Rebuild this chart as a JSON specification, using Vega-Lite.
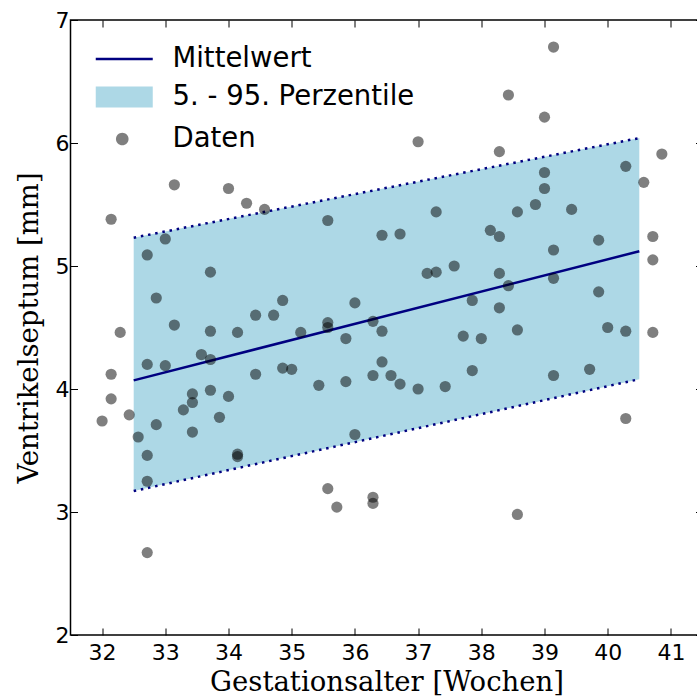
{
  "$schema": "https://vega.github.io/schema/vega-lite/v6.json",
  "autosize": "none",
  "width": 632,
  "height": 615,
  "padding": {"left": 70.5, "top": 20, "right": 0, "bottom": 65},
  "background": "white",
  "config": {
    "font": "DejaVu Sans",
    "view": {"stroke": "black", "strokeWidth": 1.5},
    "axis": {
      "grid": false,
      "domain": false,
      "tickColor": "black",
      "tickWidth": 1,
      "tickSize": -7,
      "labelColor": "black",
      "labelFont": "DejaVu Sans",
      "labelFontSize": 22,
      "titleFont": "DejaVu Serif",
      "titleFontSize": 27.5,
      "titleFontWeight": "normal",
      "titleColor": "black"
    },
    "legend": {
      "title": null,
      "orient": "none",
      "padding": 0,
      "symbolSize": 400,
      "labelFont": "DejaVu Sans",
      "labelFontSize": 27.5,
      "labelColor": "black",
      "labelOffset": 53,
      "labelLimit": 0
    }
  },
  "datasets": {
    "band": [
      {"x": 32.5, "lo": 3.17, "hi": 5.23, "mean": 4.07},
      {"x": 40.5, "lo": 4.08, "hi": 6.04, "mean": 5.12}
    ],
    "points": [
      {"x": 32.143, "y": 5.38}, {"x": 32.286, "y": 4.46}, {"x": 32.143, "y": 4.12},
      {"x": 32.143, "y": 3.92}, {"x": 32.0, "y": 3.74}, {"x": 32.429, "y": 3.79}, {"x": 32.571, "y": 3.61},
      {"x": 32.714, "y": 5.09}, {"x": 32.714, "y": 4.20}, {"x": 32.714, "y": 3.46}, {"x": 32.714, "y": 3.25},
      {"x": 32.714, "y": 2.67}, {"x": 32.857, "y": 4.74}, {"x": 32.857, "y": 3.71}, {"x": 33.0, "y": 5.22},
      {"x": 33.0, "y": 4.19}, {"x": 33.143, "y": 5.66}, {"x": 33.143, "y": 4.52}, {"x": 33.286, "y": 3.83},
      {"x": 33.429, "y": 3.96}, {"x": 33.429, "y": 3.89}, {"x": 33.429, "y": 3.65}, {"x": 33.571, "y": 4.28},
      {"x": 33.714, "y": 4.24}, {"x": 33.714, "y": 4.95}, {"x": 33.714, "y": 4.47}, {"x": 33.714, "y": 3.99},
      {"x": 33.857, "y": 3.77}, {"x": 34.0, "y": 5.63}, {"x": 34.0, "y": 3.94}, {"x": 34.143, "y": 3.47},
      {"x": 34.143, "y": 3.45}, {"x": 34.143, "y": 4.46}, {"x": 34.286, "y": 5.51}, {"x": 34.429, "y": 4.60},
      {"x": 34.429, "y": 4.12}, {"x": 34.571, "y": 5.46}, {"x": 34.714, "y": 4.60}, {"x": 34.857, "y": 4.72},
      {"x": 34.857, "y": 4.17}, {"x": 35.0, "y": 4.16}, {"x": 35.143, "y": 4.46}, {"x": 35.429, "y": 4.03},
      {"x": 35.571, "y": 3.19}, {"x": 35.571, "y": 5.37}, {"x": 35.571, "y": 4.54}, {"x": 35.571, "y": 4.50},
      {"x": 35.714, "y": 3.04}, {"x": 35.857, "y": 4.41}, {"x": 35.857, "y": 4.06}, {"x": 36.0, "y": 4.70},
      {"x": 36.0, "y": 3.63}, {"x": 36.286, "y": 3.12}, {"x": 36.286, "y": 3.07}, {"x": 36.286, "y": 4.55},
      {"x": 36.286, "y": 4.11}, {"x": 36.429, "y": 5.25}, {"x": 36.429, "y": 4.47}, {"x": 36.429, "y": 4.22},
      {"x": 36.571, "y": 4.11}, {"x": 36.714, "y": 5.26}, {"x": 36.714, "y": 4.04}, {"x": 37.0, "y": 6.01},
      {"x": 37.0, "y": 4.00}, {"x": 37.143, "y": 4.94}, {"x": 37.286, "y": 4.95}, {"x": 37.286, "y": 5.44},
      {"x": 37.429, "y": 4.02}, {"x": 37.571, "y": 5.00}, {"x": 37.714, "y": 4.43}, {"x": 37.857, "y": 4.72},
      {"x": 37.857, "y": 4.15}, {"x": 38.0, "y": 4.41}, {"x": 38.143, "y": 5.29}, {"x": 38.286, "y": 5.93},
      {"x": 38.286, "y": 5.24}, {"x": 38.286, "y": 4.94}, {"x": 38.286, "y": 4.66}, {"x": 38.429, "y": 6.39},
      {"x": 38.429, "y": 4.84}, {"x": 38.571, "y": 5.44}, {"x": 38.571, "y": 4.48}, {"x": 38.571, "y": 2.98},
      {"x": 38.857, "y": 5.50}, {"x": 39.0, "y": 6.21}, {"x": 39.0, "y": 5.76}, {"x": 39.0, "y": 5.63},
      {"x": 39.143, "y": 6.78}, {"x": 39.143, "y": 5.13}, {"x": 39.143, "y": 4.90}, {"x": 39.143, "y": 4.11},
      {"x": 39.429, "y": 5.46}, {"x": 39.714, "y": 4.16}, {"x": 39.857, "y": 5.21}, {"x": 39.857, "y": 4.79},
      {"x": 40.0, "y": 4.50}, {"x": 40.286, "y": 5.81}, {"x": 40.286, "y": 4.47}, {"x": 40.286, "y": 3.76},
      {"x": 40.571, "y": 5.68}, {"x": 40.714, "y": 5.24}, {"x": 40.714, "y": 5.05}, {"x": 40.714, "y": 4.46},
      {"x": 40.857, "y": 5.91}
    ]
  },
  "resolve": {"axis": {"x": "independent", "y": "independent"}},
  "layer": [
    {
      "data": {"name": "band"},
      "mark": {"type": "area", "opacity": 1},
      "encoding": {
        "x": {
          "field": "x", "type": "quantitative",
          "scale": {"domain": [31.5, 41.5], "nice": false, "zero": false},
          "axis": {"orient": "bottom", "values": [32, 33, 34, 35, 36, 37, 38, 39, 40, 41], "title": "Gestationsalter [Wochen]", "labelPadding": 14, "titlePadding": 5}
        },
        "y": {
          "field": "lo", "type": "quantitative",
          "scale": {"domain": [2, 7], "nice": false, "zero": false},
          "axis": {"orient": "left", "values": [2, 3, 4, 5, 6, 7], "title": "Ventrikelseptum [mm]", "labelPadding": 8.5, "titlePadding": 12}
        },
        "y2": {"field": "hi"},
        "fill": {
          "datum": "5. - 95. Perzentile", "type": "nominal",
          "scale": {"range": ["#ADD8E6"]},
          "legend": {
            "legendX": 21.5, "legendY": 63.25,
            "symbolType": "M-1,-1.05H4.7V1.05H-1Z",
            "symbolStrokeWidth": 0,
            "symbolStrokeColor": "transparent",
            "symbolOpacity": 1
          }
        }
      }
    },
    {
      "data": {"name": "band"},
      "mark": {"type": "line", "color": "#000080", "strokeWidth": 2.5, "strokeDash": [2.5, 4.8], "strokeCap": "butt"},
      "encoding": {
        "x": {"field": "x", "type": "quantitative", "axis": {"orient": "top", "values": [32, 33, 34, 35, 36, 37, 38, 39, 40, 41], "labels": false, "title": null}},
        "y": {"field": "hi", "type": "quantitative", "axis": {"orient": "right", "values": [2, 3, 4, 5, 6, 7], "labels": false, "title": null}}
      }
    },
    {
      "data": {"name": "band"},
      "mark": {"type": "line", "color": "#000080", "strokeWidth": 2.5, "strokeDash": [2.5, 4.8], "strokeCap": "butt"},
      "encoding": {
        "x": {"field": "x", "type": "quantitative", "axis": null},
        "y": {"field": "lo", "type": "quantitative", "axis": null}
      }
    },
    {
      "data": {"name": "band"},
      "mark": {"type": "line", "strokeWidth": 2.5},
      "encoding": {
        "x": {"field": "x", "type": "quantitative", "axis": null},
        "y": {"field": "mean", "type": "quantitative", "axis": null},
        "stroke": {
          "datum": "Mittelwert", "type": "nominal",
          "scale": {"range": ["#000080"]},
          "legend": {
            "legendX": 21.5, "legendY": 25.25,
            "symbolType": "M-1,0H4.7",
            "symbolStrokeWidth": 2.5,
            "symbolFillColor": "transparent",
            "symbolOpacity": 1
          }
        }
      }
    },
    {
      "data": {"name": "points"},
      "mark": {"type": "circle", "color": "black", "size": 125},
      "encoding": {
        "x": {"field": "x", "type": "quantitative", "axis": null},
        "y": {"field": "y", "type": "quantitative", "axis": null},
        "opacity": {
          "datum": "Daten", "type": "nominal",
          "scale": {"range": [0.5, 0.5]},
          "legend": {
            "legendX": 21.5, "legendY": 105.25,
            "symbolType": "M1.02,0A0.63,0.63 0 1,1 2.28,0A0.63,0.63 0 1,1 1.02,0Z",
            "symbolFillColor": "black",
            "symbolStrokeWidth": 0,
            "symbolStrokeColor": "transparent"
          }
        }
      }
    }
  ]
}
